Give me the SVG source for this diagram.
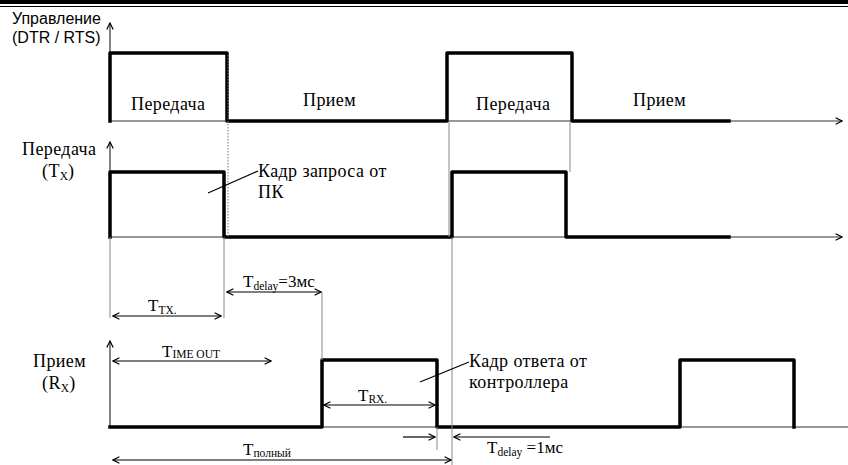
<svg xmlns="http://www.w3.org/2000/svg" width="848" height="465" viewBox="0 0 848 465">
<defs>
<marker id="arr" viewBox="0 0 10 10" refX="9" refY="5" markerWidth="8" markerHeight="8" markerUnits="userSpaceOnUse" orient="auto-start-reverse"><path d="M1,1 L9,5 L1,9" fill="none" stroke="#000" stroke-width="1.5"/></marker>
</defs>
<style>
.sig{fill:none;stroke:#000;stroke-width:3.5;stroke-linejoin:round;stroke-linecap:square}
.ax{fill:none;stroke:#333;stroke-width:1.2}
.guide{fill:none;stroke:#8a8a8a;stroke-width:1}
.dot{fill:none;stroke:#777;stroke-width:1;stroke-dasharray:1.5 1.5}
.dim{fill:none;stroke:#000;stroke-width:1.2}
.serif{font-family:"Liberation Serif","Times New Roman",serif;font-size:17px;fill:#000}
.cy{font-size:18px;letter-spacing:0.4px}
.sans{font-family:"Liberation Sans",Arial,sans-serif;font-size:16px;fill:#000}
.sub{font-size:11.5px;letter-spacing:0}
</style>
<rect width="848" height="465" fill="#fff"/>
<g id="border">
<rect x="0" y="0" width="848" height="4" fill="#000"/>
<line x1="0" y1="6.5" x2="848" y2="6.5" stroke="#000" stroke-width="1.2"/>
</g>
<g id="row-control">
<text class="sans" x="12" y="24">Управление</text>
<text class="sans" x="12" y="43">(DTR / RTS)</text>
<path class="ax" d="M110,121 V23" marker-end="url(#arr)"/>
<path class="ax" d="M110,121 H842" marker-end="url(#arr)"/>
<path class="sig" d="M110,121 V53 H227 V121 H447 V53 H572 V121 H729"/>
<text class="serif cy" x="131" y="110">Передача</text>
<text class="serif cy" x="303" y="106">Прием</text>
<text class="serif cy" x="476" y="110">Передача</text>
<text class="serif cy" x="633" y="106">Прием</text>
</g>
<g id="row-tx">
<text class="serif cy" x="22" y="155">Передача</text>
<text class="serif cy" x="42" y="177">(T<tspan class="sub" dy="3">X</tspan><tspan dy="-3">)</tspan></text>
<path class="ax" d="M110,237 V142" marker-end="url(#arr)"/>
<path class="ax" d="M110,237 H842" marker-end="url(#arr)"/>
<path class="sig" d="M110,237 V172 H224 V237 H452 V172 H566 V237 H729"/>
<text class="serif cy" x="258" y="177">Кадр запроса от</text>
<text class="serif cy" x="258" y="198">ПК</text>
</g>
<g id="row-rx">
<text class="serif cy" x="33" y="367">Прием</text>
<text class="serif cy" x="42" y="389">(R<tspan class="sub" dy="3">X</tspan><tspan dy="-3">)</tspan></text>
<path class="ax" d="M110,427 V341" marker-end="url(#arr)"/>
<path class="ax" d="M110,427 H848"/>
<path class="sig" d="M110,427 H322 V360 H437 V427 H680 V360 H794 V427"/>
<text class="serif cy" x="469" y="367">Кадр ответа от</text>
<text class="serif cy" x="469" y="388">контроллера</text>
</g>
<g id="labels">
<text class="serif" x="148" y="311">T<tspan class="sub" dy="3">TX.</tspan></text>
<text class="serif" x="243" y="287">T<tspan class="sub" dy="3">delay</tspan><tspan dy="-3">=3мс</tspan></text>
<text class="serif" x="162" y="357">T<tspan class="sub" dy="1">IME OUT</tspan></text>
<text class="serif" x="358" y="401">T<tspan class="sub" dy="2">RX.</tspan></text>
<text class="serif" x="487" y="453">T<tspan class="sub" dy="3">delay</tspan><tspan dy="-3"> =1мс</tspan></text>
<text class="serif" x="243" y="455">T<tspan class="sub" dy="2">полный</tspan></text>
</g>
<g id="connectors">
<path class="dot" d="M228,55 V237"/>
<path class="guide" d="M449,121 V237 M570,121 V172 M110,237 V318 M224,237 V318 M322,292 V360 M452,237 V465 M437,427 V450"/>
<path class="dim" d="M113,316 H221" marker-start="url(#arr)" marker-end="url(#arr)"/>
<path class="dim" d="M227,292 H321" marker-start="url(#arr)" marker-end="url(#arr)"/>
<path class="dim" d="M113,361 H271" marker-start="url(#arr)" marker-end="url(#arr)"/>
<path class="dim" d="M324,405 H435" marker-start="url(#arr)" marker-end="url(#arr)"/>
<path class="dim" d="M403,437 H435" marker-end="url(#arr)"/>
<path class="dim" d="M550,437 H454" marker-end="url(#arr)"/>
<path class="dim" d="M113,460 H451" marker-start="url(#arr)" marker-end="url(#arr)"/>
<path class="dim" d="M208,193 L258,171"/>
<path class="dim" d="M420,382 L469,362"/>
</g>
</svg>
